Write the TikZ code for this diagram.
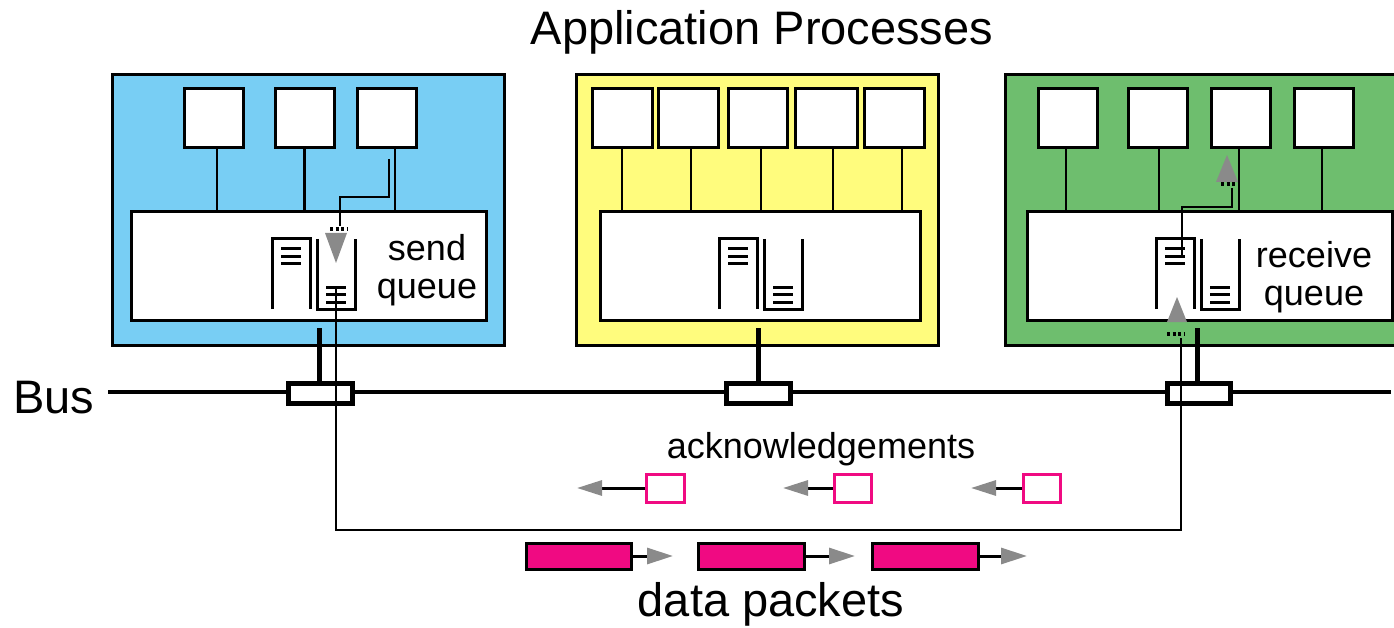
\documentclass[tikz,border=0pt]{standalone}
\usepackage{fontspec}
\setmainfont{Liberation Sans}
\usetikzlibrary{arrows.meta,calc}
\definecolor{bluefill}{RGB}{120,206,244}
\definecolor{yellowfill}{RGB}{255,252,125}
\definecolor{greenfill}{RGB}{110,190,110}
\definecolor{tipgray}{RGB}{138,138,138}
\definecolor{pinkmag}{RGB}{240,10,130}
\newcommand\rectnode[6]{\node[#1,minimum width={(#5-#3)*1pt},minimum height={(#6-#4)*1pt}] (#2) at ({(#3+#5)/2},{(#4+#6)/2}) {};}
\tikzset{
  outer/.style={draw,line width=3pt,inner sep=0pt},
  kernel/.style={draw,fill=white,line width=3pt,inner sep=0pt},
  proc/.style={draw,fill=white,line width=3pt,inner sep=0pt},
  link/.style={line width=2.5pt},
  qline/.style={line width=3pt},
  busline/.style={line width=4.5pt},
  stem/.style={line width=5pt},
  tap/.style={draw,fill=white,line width=5pt,inner sep=0pt},
  wire/.style={line width=2pt},
  dashbar/.style={line width=4pt,dash pattern=on 3pt off 2.5pt},
  grayhead/.style={fill=tipgray},
  ackbox/.style={draw=pinkmag,fill=white,line width=3pt,inner sep=0pt},
  packet/.style={draw,fill=pinkmag,line width=3pt,inner sep=0pt},
  ackarrow/.style={line width=3pt,-{Triangle[length=25pt,width=15pt,color=tipgray]}},
  pkarrow/.style={line width=3pt,-{Triangle[length=26pt,width=16pt,color=tipgray]}},
  bigtext/.style={font=\fontsize{47}{52}\selectfont,inner sep=0pt},
  midtext/.style={font=\fontsize{36}{38}\selectfont,inner sep=0pt,align=center},
  queues/.pic={
    \draw[qline] (0,70) -- (0,0) -- (38,0) -- (38,70);
    \draw[qline] (9,10) -- (29,10) (9,18) -- (29,18) (9,25) -- (29,25);
    \draw[qline] (45,0) -- (45,70) -- (83,70) -- (83,0);
    \draw[qline] (54,48) -- (74,48) (54,55) -- (74,55) (54,63) -- (74,63);
    \coordinate (-out) at (64,48);
    \coordinate (-in) at (26,18);
  }
}
\begin{document}
\begin{tikzpicture}[x=1pt,y=-1pt,line join=miter]
\useasboundingbox (0,0) rectangle (1394,628);
\fill[white] (0,0) rectangle (1394,628);

% host boxes
\rectnode{outer,fill=bluefill}{blueproc}{112}{75}{504}{345}
\rectnode{outer,fill=yellowfill}{yellowproc}{576}{75}{938}{345}
\rectnode{outer,fill=greenfill}{greenproc}{1005}{75}{1398}{345}

\rectnode{kernel}{bluekern}{131}{212}{486}{320}
\rectnode{kernel}{yellowkern}{600}{212}{920}{320}
\rectnode{kernel}{greenkern}{1027}{212}{1392}{320}

% application processes
\rectnode{proc}{b1}{184}{89}{243}{148}
\rectnode{proc}{b2}{275}{89}{334}{148}
\rectnode{proc}{b3}{357}{89}{416}{148}

\rectnode{proc}{y1}{592}{89}{652}{148}
\rectnode{proc}{y2}{658}{89}{718}{148}
\rectnode{proc}{y3}{728}{89}{787}{148}
\rectnode{proc}{y4}{795}{89}{857}{148}
\rectnode{proc}{y5}{864}{89}{924}{148}

\rectnode{proc}{g1}{1038}{89}{1097}{148}
\rectnode{proc}{g2}{1128}{89}{1187}{148}
\rectnode{proc}{g3}{1211}{89}{1270}{148}
\rectnode{proc}{g4}{1294}{89}{1353}{148}

% links process -> kernel
\draw[link] ([xshift=3.5pt]b1.south) -- ([xshift=3.5pt]b1.south |- bluekern.north);
\draw[link] (b2.south) -- (b2.south |- bluekern.north);
\draw[link] ([xshift=8.5pt]b3.south) -- ([xshift=8.5pt]b3.south |- bluekern.north);

\draw[link] (y1.south) -- (y1.south |- yellowkern.north);
\draw[link] ([xshift=3pt]y2.south) -- ([xshift=3pt]y2.south |- yellowkern.north);
\draw[link] ([xshift=3.5pt]y3.south) -- ([xshift=3.5pt]y3.south |- yellowkern.north);
\draw[link] ([xshift=7pt]y4.south) -- ([xshift=7pt]y4.south |- yellowkern.north);
\draw[link] ([xshift=8pt]y5.south) -- ([xshift=8pt]y5.south |- yellowkern.north);

\draw[link] ([xshift=-1.5pt]g1.south) -- ([xshift=-1.5pt]g1.south |- greenkern.north);
\draw[link] ([xshift=1.5pt]g2.south) -- ([xshift=1.5pt]g2.south |- greenkern.north);
\draw[link] ([xshift=-1.5pt]g3.south) -- ([xshift=-1.5pt]g3.south |- greenkern.north);
\draw[link] ([xshift=-1.5pt]g4.south) -- ([xshift=-1.5pt]g4.south |- greenkern.north);

% queues
\pic (bq) at (272,239) {queues};
\pic (yq) at (719,239) {queues};
\pic (gq) at (1156,239) {queues};

% bus
\coordinate (busL) at (108,392);
\coordinate (busR) at (1391,392);
\draw[busline] (busL) -- (busR);

\rectnode{tap}{btap}{288}{383}{352}{403}
\rectnode{tap}{ytap}{726}{383}{790}{403}
\rectnode{tap}{gtap}{1167}{383}{1230}{403}

\draw[stem] ([xshift=-1pt]btap.north) -- ($([xshift=-1pt]btap.north |- bluekern.south)+(0,6)$);
\draw[stem] (ytap.north) -- ($(ytap.north |- yellowkern.south)+(0,6)$);
\draw[stem] ([xshift=-1.5pt]gtap.north) -- ($([xshift=-1.5pt]gtap.north |- greenkern.south)+(0,6)$);

% send path (process -> send queue)
\coordinate (sendhook) at (389,159);
\coordinate (sendbend) at (340,197);
\coordinate (sendend) at (340,226);
\draw[wire] (sendhook) |- (sendbend) -- (sendend);
\draw[dashbar] (330,229.5) -- (348,229.5);
\fill[grayhead] (325,233) -- (347,233) -- (336,263) -- cycle;

% data route between queues
\coordinate (routecorner) at (1181,530);
\coordinate (rcvfoot) at (1181,338);
\draw[wire] (bq-out) |- (routecorner) -- (rcvfoot);
\draw[dashbar] (1167,333.5) -- (1185,333.5);
\fill[grayhead] (1167,322) -- (1187,322) -- (1177,297) -- cycle;

% receive path (receive queue -> process)
\coordinate (rcvbend) at (1232,207);
\coordinate (rcvend) at (1232,188);
\draw[wire] (gq-in) |- (rcvbend) -- (rcvend);
\draw[dashbar] (1221,184.5) -- (1239,184.5);
\fill[grayhead] (1216,182) -- (1238,182) -- (1227,155) -- cycle;

% acknowledgements
\rectnode{ackbox}{a1}{646}{474}{684}{502}
\rectnode{ackbox}{a2}{834}{474}{871}{502}
\rectnode{ackbox}{a3}{1023}{474}{1060}{502}
\coordinate (a1tip) at (577,488);
\coordinate (a2tip) at (783,488);
\coordinate (a3tip) at (971,488);
\draw[ackarrow] (a1.west) -- (a1tip);
\draw[ackarrow] (a2.west) -- (a2tip);
\draw[ackarrow] (a3.west) -- (a3tip);

% data packets
\rectnode{packet}{p1}{526}{543}{631}{569}
\rectnode{packet}{p2}{698}{543}{804}{569}
\rectnode{packet}{p3}{872}{543}{978}{569}
\coordinate (p1tip) at (673,556);
\coordinate (p2tip) at (855,556);
\coordinate (p3tip) at (1027,556);
\draw[pkarrow] (p1.east) -- (p1tip);
\draw[pkarrow] (p2.east) -- (p2tip);
\draw[pkarrow] (p3.east) -- (p3tip);

% texts
\node[bigtext,anchor=base] (title) at (762,45) {Application Processes};
\node[bigtext,anchor=base west] (buslabel) at (13,413) {Bus};
\node[midtext] (sendlbl) at (427,270) {send\\queue};
\node[midtext] (rcvlbl) at (1314,277) {receive\\queue};
\node[midtext,anchor=base] (acklbl) at (821,458) {acknowledgements};
\node[bigtext,anchor=base] (datalbl) at (771,616) {data packets};
\end{tikzpicture}
\end{document}
